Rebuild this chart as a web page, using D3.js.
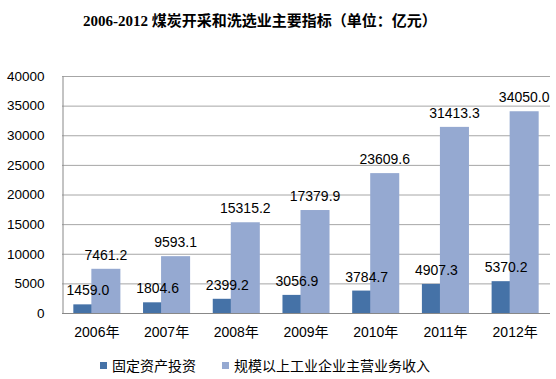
<!DOCTYPE html>
<html><head><meta charset="utf-8">
<script src="https://cdn.jsdelivr.net/npm/d3@7"></script>
<style>
html,body{margin:0;padding:0;background:#fff;}
svg{display:block;}
text{font-family:"Liberation Sans","Noto Sans CJK SC",sans-serif;}
</style></head>
<body>
<svg id="c" width="556" height="379"></svg>
<script>
const categories = ["2006年","2007年","2008年","2009年","2010年","2011年","2012年"];
const seriesNames = ["固定资产投资","规模以上工业企业主营业务收入"];
const investment = [1459.0,1804.6,2399.2,3056.9,3784.7,4907.3,5370.2];
const revenue = [7461.2,9593.1,15315.2,17379.9,23609.6,31413.3,34050.0];
const yTicks = [0,5000,10000,15000,20000,25000,30000,35000,40000];
const colors = ["#4572A7","#95A9D1"];
const titleNum = "2006-2012";
const titleText = "煤炭开采和洗选业主要指标（单位：亿元）";

const svg = d3.select("#c");
const L = 62, R = 550, T = 76, B = 313;

const x0 = d3.scaleBand().domain(categories).range([L, R]).paddingInner(0.325).paddingOuter(0.1625);
const y = d3.scaleLinear().domain([0, 40000]).range([B, T]);
const bw = x0.bandwidth();
const barW = bw * 29 / 47;
const x1 = d3.scaleOrdinal().domain(seriesNames).range([0, bw - barW]);

// title
const title = svg.append("text").attr("x", 260).attr("y", 26).attr("text-anchor", "middle")
  .attr("font-weight", "bold").attr("font-size", 15).attr("fill", "#000");
title.append("tspan").attr("font-family", "'Liberation Serif',serif").text(titleNum + " ");
title.append("tspan").attr("font-family", "'Noto Sans CJK SC',sans-serif").attr("font-weight", "bold").text(titleText);

// gridlines
svg.append("g").selectAll("line").data(yTicks.filter(d => d > 0)).join("line")
  .attr("x1", L).attr("x2", R).attr("y1", d => y(d) + 0.5).attr("y2", d => y(d) + 0.5)
  .attr("stroke", "#a6a6a6").attr("stroke-width", 1);

// y axis
const yAxis = d3.axisLeft(y).tickValues(yTicks).tickSize(0).tickPadding(18).tickFormat(d => String(d));
const gy = svg.append("g").attr("transform", `translate(${L + 0.5},0)`).call(yAxis);
gy.select(".domain").attr("stroke", "#888");
gy.selectAll("text").attr("font-size", 13.5).attr("fill", "#000")
  .attr("font-family", "'Liberation Sans',sans-serif");

// bars
const data = categories.map((c, i) => ({c, vals: [investment[i], revenue[i]]}));
seriesNames.forEach((s, si) => {
  svg.append("g").selectAll("rect").data(data).join("rect")
    .attr("x", d => x0(d.c) + x1(s)).attr("width", barW)
    .attr("y", d => y(d.vals[si])).attr("height", d => B - y(d.vals[si]))
    .attr("fill", colors[si]);
});

// x axis
const xAxis = d3.axisBottom(x0).tickSize(0).tickPadding(14);
const gx = svg.append("g").attr("transform", `translate(0,${B + 0.5})`).call(xAxis);
gx.select(".domain").attr("stroke", "#888").attr("d", `M${L},0H${R}`);
gx.selectAll("text").attr("font-size", 14).attr("fill", "#000")
  .attr("font-family", "'Liberation Sans','Noto Sans CJK SC',sans-serif");

// data labels
seriesNames.forEach((s, si) => {
  svg.append("g").selectAll("text").data(data).join("text")
    .attr("x", d => x0(d.c) + x1(s) + barW / 2)
    .attr("y", d => y(d.vals[si]) - 9)
    .attr("text-anchor", "middle").attr("font-size", 14).attr("fill", "#000")
    .text(d => d.vals[si].toFixed(1));
});

// legend
const legX = [100, 222];
seriesNames.forEach((s, si) => {
  svg.append("rect").attr("x", legX[si]).attr("y", 362).attr("width", 7).attr("height", 7).attr("fill", colors[si]);
  svg.append("text").attr("x", legX[si] + 12).attr("y", 371).attr("font-size", 14).attr("fill", "#000")
    .attr("font-family", "'Noto Sans CJK SC',sans-serif").text(s);
});
</script>
</body></html>
